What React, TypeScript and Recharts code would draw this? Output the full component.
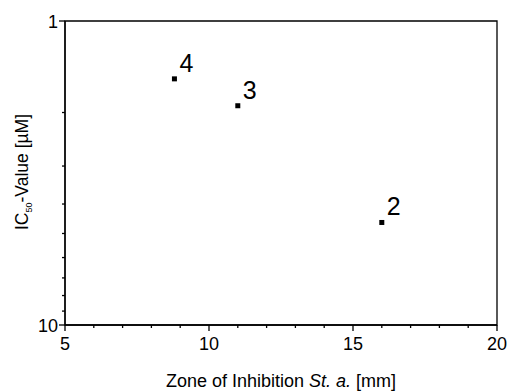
import { ScatterChart, Scatter, XAxis, YAxis, ReferenceArea } from "recharts";

const compounds = ["2", "3", "4"];
const zoneMm = [16, 11, 8.8];
const ic50 = [4.6, 1.9, 1.55];

const xTicks = [5, 6, 7, 8, 9, 10, 11, 12, 13, 14, 15, 16, 17, 18, 19, 20];
const xLabels = [5, 10, 15, 20];
const yTicks = [1, 2, 3, 4, 5, 6, 7, 8, 9, 10];
const yLabels = [1, 10];

const FONT = "'Liberation Sans', Arial, Helvetica, sans-serif";

const data = compounds.map((name, i) => ({ name, x: zoneMm[i], y: ic50[i] }));

function XTick(props: any) {
  const { x, y, payload } = props;
  const major = xLabels.includes(payload.value);
  return (
    <g>
      <line x1={x} x2={x} y1={y} y2={y + (major ? 6 : 3)} stroke="#000" strokeWidth={1.3} />
      {major && (
        <text x={x} y={y + 25} textAnchor="middle" fontSize={18} fontFamily={FONT} fill="#000">
          {payload.value}
        </text>
      )}
    </g>
  );
}

function YTick(props: any) {
  const { x, y, payload } = props;
  const major = yLabels.includes(payload.value);
  return (
    <g>
      <line x1={x} x2={x - (major ? 6 : 3)} y1={y} y2={y} stroke="#000" strokeWidth={1.3} />
      {major && (
        <text x={x - 7} y={y + 6.5} textAnchor="end" fontSize={18} fontFamily={FONT} fill="#000">
          {payload.value}
        </text>
      )}
    </g>
  );
}

function Marker(props: any) {
  const { cx, cy, payload } = props;
  return (
    <g>
      <rect x={cx - 2.5} y={cy - 2.5} width={5} height={5} fill="#000" />
      <text x={cx + 5} y={cy - 7} fontSize={25} fontFamily={FONT} fill="#000">
        {payload.name}
      </text>
    </g>
  );
}

export default function App() {
  return (
    <div style={{ position: "absolute", left: 0, top: 0, background: "#fff" }}>
      <ScatterChart width={510} height={391} margin={{ top: 21, right: 13, left: 0, bottom: 0 }}>
        <XAxis
          type="number"
          dataKey="x"
          domain={[5, 20]}
          ticks={xTicks}
          interval={0}
          height={66}
          tickSize={0}
          tickMargin={0}
          tickLine={false}
          tick={<XTick />}
          axisLine={{ stroke: "#000", strokeWidth: 1.3 }}
          allowDataOverflow
          label={{
            content: () => (
              <text x={281} y={387} textAnchor="middle" fontSize={18} fontFamily={FONT} fill="#000">
                Zone of Inhibition <tspan fontStyle="italic">St. a.</tspan> [mm]
              </text>
            ),
          }}
        />
        <YAxis
          type="number"
          dataKey="y"
          scale="log"
          domain={[1, 10]}
          reversed
          ticks={yTicks}
          interval={0}
          width={65}
          tickSize={0}
          tickMargin={0}
          tickLine={false}
          tick={<YTick />}
          axisLine={{ stroke: "#000", strokeWidth: 1.3 }}
          allowDataOverflow
          label={{
            content: () => (
              <text
                x={28}
                y={172}
                textAnchor="middle"
                transform="rotate(-90, 28, 172)"
                fontSize={17.5}
                fontFamily={FONT}
                fill="#000"
              >
                IC<tspan fontSize={9} dy={4}>50</tspan>
                <tspan dy={-4}>-Value [µM]</tspan>
              </text>
            ),
          }}
        />
        <ReferenceArea x1={5} x2={20} y1={1} y2={10} fill="none" stroke="#000" strokeWidth={1.3} />
        <Scatter data={data} shape={<Marker />} isAnimationActive={false} />
      </ScatterChart>
    </div>
  );
}
